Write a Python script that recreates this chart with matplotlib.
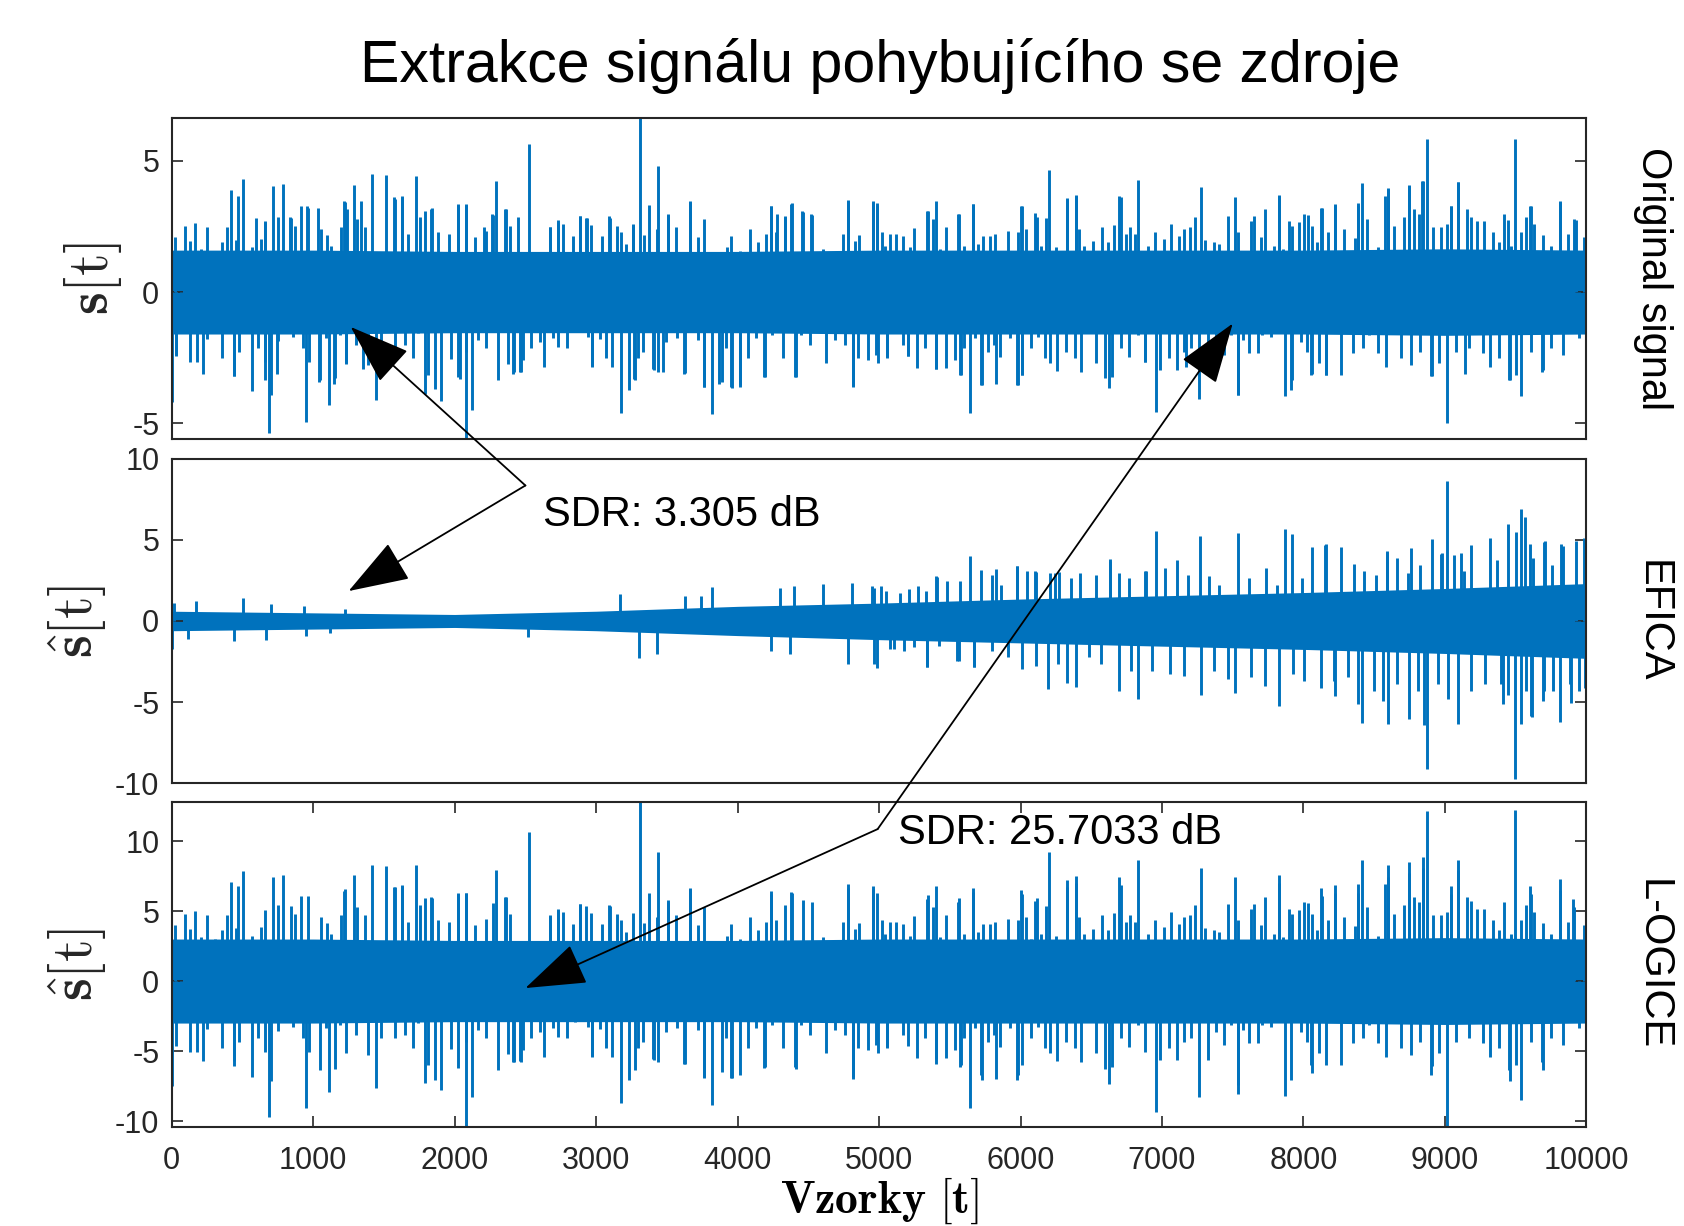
import numpy as np
import matplotlib
matplotlib.use("Agg")
import matplotlib.pyplot as plt

plt.rcParams['font.family'] = ['Liberation Sans', 'DejaVu Sans']
plt.rcParams['mathtext.fontset'] = 'cm'
plt.rcParams['axes.unicode_minus'] = False

BLUE = '#0072BD'

# ---- data ----
# solid core of each signal (envelope every 1000 samples)
env_x = [0, 1000, 2000, 3000, 4000, 5000, 6000, 7000, 8000, 9000, 10000]
orig_hi = [1.6, 1.6, 1.55, 1.55, 1.55, 1.6, 1.6, 1.6, 1.6, 1.65, 1.6]
orig_lo = [-1.6, -1.6, -1.55, -1.55, -1.55, -1.6, -1.6, -1.6, -1.6, -1.65, -1.6]
efica_hi = [0.6, 0.5, 0.4, 0.6, 0.9, 1.1, 1.35, 1.55, 1.75, 2.0, 2.3]
efica_lo = [-0.6, -0.5, -0.4, -0.6, -0.9, -1.15, -1.35, -1.55, -1.75, -2.0, -2.3]
logice_hi = [3.0, 3.0, 2.9, 2.9, 2.9, 3.0, 3.0, 3.0, 3.0, 3.1, 3.0]
logice_lo = [-3.0, -3.0, -2.9, -2.9, -2.9, -3.0, -3.0, -3.0, -3.0, -3.1, -3.0]

# tall spikes: original signal
orig_up_x = [416, 471, 506, 598, 660, 718, 783, 838, 913, 958, 1033, 1215, 1239, 1290, 1341,
             1417, 1516, 1574, 1626, 1728, 1790, 1842, 2023, 2081, 2208, 2266, 2294, 2362,
             2448, 2523, 2674, 2732, 2886, 2934, 3092, 3260, 3311, 3434, 3510, 3664, 4236,
             4280, 4332, 4383, 4452, 4520, 4777, 4959, 4983, 5346, 5400, 5562, 5663, 6006,
             6114, 6201, 6330, 6392, 6698, 6832, 7275, 7517, 7827, 8122, 8223, 8386, 8414,
             8598, 8743, 8836, 8872, 9042, 9092, 9186, 9449, 9496, 9601, 9817, 9925]
orig_up = [3.88, 3.68, 4.32, 2.83, 2.71, 4.04, 4.13, 2.86, 3.30, 3.27, 3.20, 3.49, 3.18, 4.10,
           3.49, 4.49, 4.45, 3.62, 3.66, 4.41, 3.11, 3.20, 3.35, 3.34, 2.48, 2.99, 4.22, 3.18,
           2.88, 5.63, 2.50, 2.73, 2.92, 2.83, 2.92, 2.60, 6.8, 4.79, 2.99, 3.49, 3.30, 2.99,
           2.92, 3.39, 3.11, 2.99, 3.53, 3.49, 3.39, 3.11, 3.49, 2.99, 3.37, 3.30, 2.88, 4.64,
           3.60, 3.71, 3.66, 4.28, 4.00, 3.62, 3.72, 3.21, 3.37, 3.41, 4.17, 3.96, 4.07, 4.22,
           5.85, 3.28, 4.19, 2.86, 2.73, 5.85, 3.30, 3.47, 2.73]
orig_dn_x = [5, 33, 221, 437, 564, 660, 684, 701, 742, 947, 1043, 1112, 1146, 1232, 1352, 1441,
             1790, 1900, 2037, 2078, 2122, 2414, 2465, 2968, 3174, 3229, 3270, 3407, 3475, 3623,
             3760, 3818, 3870, 3955, 4017, 4188, 4411, 4815, 5205, 5058, 5400, 5573, 5642, 5725,
             5826, 5977, 6013, 6626, 6878, 6958, 7167, 7264, 7535, 7870, 7917, 8061, 8158, 8905,
             9017, 9139, 9457, 9540, 9691, 9995]
orig_dn = [-4.19, -2.41, -3.14, -3.20, -3.77, -3.37, -5.36, -3.94, -3.11, -4.96, -3.43, -4.32,
           -3.49, -2.73, -2.92, -4.13, -3.88, -4.17, -3.30, -5.7, -4.49, -3.11, -3.05, -2.83,
           -4.60, -3.72, -3.30, -2.96, -3.05, -3.11, -3.62, -4.64, -3.49, -3.62, -3.62, -3.24,
           -3.24, -3.60, -2.45, -2.48, -2.92, -3.18, -4.60, -3.56, -3.49, -3.56, -3.18, -3.65,
           -2.67, -4.57, -2.86, -4.07, -3.94, -3.98, -3.37, -3.14, -3.18, -3.20, -4.98, -3.11,
           -3.37, -3.96, -2.99, -2.73]

# medium-height lines of the original signal (the fringe of the dense band)
mid_up_x = [21, 97, 127, 167, 205, 250, 304, 356, 393, 457, 568, 634, 662, 751, 841, 874, 963,
            1058, 1100, 1128, 1199, 1223, 1312, 1364, 1477, 1576, 1628, 1670, 1753, 1835, 1882,
            1960, 2024, 2083, 2141, 2224, 2271, 2353, 2389, 2483,
            2483, 2554, 2577, 2636, 2676, 2730, 2766, 2836, 2888, 2926, 2966, 3044, 3095, 3147,
            3178, 3209, 3260, 3336, 3371, 3397, 3430, 3508, 3567, 3602, 3665, 3720, 3762, 3826,
            3885, 3925, 3955, 4014, 4085, 4144, 4203, 4238, 4269, 4332, 4379, 4462, 4528, 4603,
            4697, 4744, 4780, 4827, 4857, 4956, 4985, 5022,
            5039, 5074, 5121, 5168, 5216, 5246, 5298, 5340, 5381, 5428, 5475, 5557, 5600, 5663,
            5703, 5734, 5781, 5821, 5863, 5910, 5981, 6009, 6040, 6075, 6106, 6146, 6181, 6252,
            6330, 6391, 6410, 6452, 6511, 6575, 6617, 6664, 6707, 6747, 6777, 6810, 6900, 6952,
            7011, 7065, 7117, 7159, 7201, 7234, 7305, 7366, 7406, 7470, 7536,
            7548, 7583, 7630, 7654, 7701, 7731, 7760, 7795, 7830, 7859, 7896, 7920, 7972, 8007,
            8031, 8061, 8094, 8132, 8172, 8226, 8290, 8320, 8367, 8384, 8448, 8490, 8525, 8579,
            8596, 8643, 8714, 8744, 8784, 8815, 8843, 8919, 8973, 9013, 9044, 9091, 9154, 9225,
            9279, 9338, 9385, 9420, 9468, 9538, 9574, 9609, 9633, 9691, 9750, 9814, 9868, 9915,
            9986]
orig_mid_up = [2.09, 2.53, 1.96, 2.63, 1.65, 2.47, 1.58, 1.90, 2.47, 2.0, 1.71, 2.03, 2.66, 2.87,
               2.81, 2.53, 3.19, 2.41, 2.18, 1.77, 2.47, 3.44, 2.78, 2.47, 1.46, 3.54, 3.61, 2.22,
               2.85, 3.16, 2.28, 2.22, 3.32, 3.32, 2.09, 2.34, 2.94, 3.16, 2.51, 1.39,
               1.52, 1.08, 1.46, 1.46, 2.47, 2.66, 2.59, 2.15, 2.89, 2.81, 2.56, 2.15, 2.81, 2.51,
               2.28, 1.84, 2.56, 2.18, 3.32, 1.20, 2.41, 2.95, 2.47, 1.27, 3.44, 2.09, 2.78, 1.16,
               1.42, 1.71, 2.15, 1.58, 2.41, 1.90, 2.22, 3.27, 2.28, 2.85, 3.35, 3.06, 2.95, 1.65,
               1.39, 2.22, 3.48, 1.96, 2.18, 3.44, 3.32, 2.28,
               1.77, 2.22, 2.22, 2.15, 1.71, 2.43, 1.52, 3.10, 2.78, 1.65, 2.47, 2.97, 1.77, 3.35,
               1.84, 2.13, 2.15, 2.22, 1.52, 2.34, 2.28, 3.27, 2.41, 1.58, 3.0, 1.77, 2.81, 1.71,
               3.54, 3.67, 2.41, 1.77, 1.96, 2.47, 1.90, 2.56, 3.61, 2.22, 2.47, 2.22, 1.77, 2.30,
               2.03, 2.59, 2.13, 2.41, 2.47, 2.85, 2.0, 1.90, 1.84, 2.91, 2.28,
               1.46, 1.46, 2.70, 2.91, 2.09, 3.16, 1.52, 1.77, 3.67, 1.65, 2.72, 2.53, 2.66, 2.97,
               2.94, 2.53, 1.92, 3.19, 2.30, 3.32, 2.41, 1.46, 2.05, 3.32, 2.78, 1.39, 1.71, 3.65,
               3.92, 2.53, 2.85, 4.05, 3.16, 2.97, 4.24, 2.47, 2.47, 2.59, 3.27, 4.18, 3.16, 2.72,
               2.72, 2.28, 1.90, 2.97, 1.77, 2.28, 2.85, 3.27, 2.59, 2.18, 1.77, 3.42, 2.22, 2.78,
               2.09]
mid_dn_x = [33, 68, 127, 179, 252, 304, 358, 441, 473, 528, 610, 657, 751, 799, 857, 893, 931,
            968, 1046, 1093, 1152, 1187, 1230, 1305, 1388, 1482, 1576, 1647, 1706, 1741, 1812,
            1859, 1972, 2024, 2083, 2165, 2224, 2306, 2377, 2419, 2483,
            2471, 2542, 2601, 2631, 2695, 2730, 2796, 2848, 2895, 2942, 2973, 3025, 3067, 3114,
            3272, 3296, 3331, 3402, 3437, 3496, 3571, 3630, 3673, 3720, 3760, 3887, 3920, 3960,
            4014, 4073, 4132, 4191, 4245, 4320, 4403, 4450, 4509, 4622, 4686, 4756, 4815, 4851,
            4921, 4992,
            4980, 5058, 5121, 5168, 5204, 5270, 5322, 5404, 5475, 5534, 5576, 5604, 5675, 5722,
            5769, 5816, 5856, 5929, 5981, 6012, 6075, 6127, 6170, 6212, 6259, 6323, 6382, 6429,
            6476, 6535, 6598, 6645, 6711, 6770, 6829, 6881, 6989, 7053, 7107, 7159, 7206, 7324,
            7383, 7437, 7489, 7536,
            7571, 7614, 7677, 7708, 7771, 7830, 7913, 7948, 7983, 8024, 8054, 8113, 8160, 8207,
            8266, 8306, 8349, 8419, 8466, 8525, 8584, 8631, 8690, 8761, 8824, 8909, 8961, 9079,
            9173, 9267, 9319, 9385, 9451, 9503, 9609, 9687, 9750, 9833, 9903, 9950, 9998]
orig_mid_dn = [-2.43, -1.52, -2.66, -2.66, -1.80, -1.39, -2.51, -3.19, -2.28, -1.14, -2.15, -2.66,
               -1.87, -1.52, -1.71, -1.27, -2.15, -2.66, -3.35, -1.77, -3.29, -1.65, -2.72, -2.03,
               -2.78, -2.15, -2.15, -2.03, -2.53, -1.58, -3.16, -3.70, -2.56, -3.25, -2.28, -1.84,
               -2.15, -3.35, -2.76, -3.04, -2.59,
               -3.04, -2.15, -1.90, -2.85, -1.77, -2.09, -2.15, -1.52, -1.33, -1.71, -2.85, -1.80,
               -2.51, -2.85, -3.35, -2.51, -2.28, -2.94, -3.04, -1.92, -1.77, -3.10, -1.46, -1.84,
               -3.61, -3.42, -2.15, -3.65, -3.54, -2.53, -1.77, -3.23, -1.65, -2.53, -3.23, -1.65,
               -2.03, -2.72, -1.84, -2.03, -3.61, -2.53, -2.59, -2.72,
               -2.41, -2.51, -1.52, -2.03, -2.43, -2.89, -2.15, -2.94, -2.91, -2.59, -3.16, -2.15,
               -1.77, -3.54, -2.28, -2.03, -2.47, -1.77, -3.54, -3.16, -2.15, -1.71, -2.53, -2.72,
               -3.01, -2.28, -2.53, -3.04, -1.39, -2.72, -3.29, -3.23, -2.15, -2.47, -1.65, -2.66,
               -2.97, -2.53, -2.97, -2.28, -2.15, -2.97, -1.90, -2.41, -1.65, -3.92,
               -1.84, -2.34, -2.34, -1.65, -1.71, -1.20, -3.73, -1.52, -1.90, -2.28, -3.16, -2.72,
               -3.16, -1.52, -3.16, -1.52, -2.34, -2.15, -1.65, -2.34, -2.85, -1.14, -2.53, -2.78,
               -2.28, -3.19, -2.72, -2.28, -2.15, -2.34, -2.85, -2.53, -3.35, -3.16, -2.28, -3.04,
               -2.15, -2.41, -1.52, -1.77, -2.76]

# EFICA estimate
efica_up_x = [16, 170, 506, 701, 934, 1225, 3167, 3630, 3739, 3818, 4298, 4400, 4606, 4811,
              4948, 5017, 5400, 5645, 5826, 5977, 6103, 6247, 6633, 6878, 6958, 7268, 7535,
              7870, 7917, 8061, 8158, 8267, 8591, 8764, 8908, 8970, 9017, 9114, 9186, 9320,
              9449, 9500, 9540, 9565, 9601, 9709, 9824, 9925, 9997]
efica_up = [1.13, 1.23, 1.44, 1.07, 0.92, 0.76, 1.64, 1.54, 1.54, 2.09, 2.05, 2.16, 2.26, 2.36,
            2.16, 2.16, 2.77, 4.00, 3.18, 3.39, 3.08, 2.98, 3.80, 3.08, 5.54, 5.20, 5.44, 5.65,
            5.38, 4.56, 4.72, 4.56, 4.31, 4.52, 5.07, 4.11, 8.62, 4.21, 4.66, 5.13, 5.95, 5.48,
            6.92, 6.37, 4.72, 4.93, 4.72, 4.93, 5.13]
efica_dn_x = [5, 118, 437, 667, 947, 1119, 2516, 3304, 3431, 4236, 4373, 4777, 4983, 5103,
              5339, 5562, 5671, 6193, 6330, 6392, 6698, 6832, 7275, 7517, 7827, 8122, 8223,
              8414, 8598, 8743, 8851, 8872, 9092, 9413, 9496, 9540, 9612, 9691, 9817, 9889, 9990]
efica_dn = [-1.75, -1.09, -1.23, -1.17, -0.92, -0.72, -0.99, -2.26, -2.05, -1.85, -2.05, -2.67,
            -2.87, -1.75, -2.83, -2.46, -2.83, -4.17, -3.80, -4.05, -4.31, -4.83, -4.58, -4.41,
            -5.24, -4.11, -4.62, -6.30, -6.37, -6.06, -6.41, -9.10, -6.32, -5.13, -9.75, -6.37,
            -5.85, -4.93, -6.22, -5.03, -4.11]
efica_mid_up_x = [4966, 5047, 5145, 5211, 5276, 5332, 5407, 5482, 5570, 5724, 5799, 5865, 5973,
                  6044, 6110, 6208, 6273, 6355, 6420, 6535, 6633, 6698, 6770, 6888, 7025, 7107,
                  7182, 7336, 7401, 7614, 7738, 7810, 7990, 8153, 8359, 8431, 8513, 8588, 8660,
                  8741, 8823, 8977, 9068, 9134, 9369, 9624, 9699, 9755, 9836, 9984]
efica_mid_up = [2.04, 1.84, 1.73, 1.94, 2.18, 1.84, 2.71, 2.45, 2.49, 3.16, 2.86, 2.24, 3.37,
                3.06, 3.02, 2.96, 3.02, 2.65, 2.96, 2.86, 3.71, 2.96, 2.65, 3.06, 3.27, 3.78,
                2.86, 2.76, 2.24, 2.65, 3.27, 2.24, 2.65, 4.65, 3.51, 3.06, 2.86, 4.24, 3.88,
                2.96, 3.47, 4.18, 4.08, 3.06, 3.78, 3.88, 4.86, 3.47, 4.59, 5.1]
efica_mid_dn_x = [4966, 5080, 5178, 5244, 5342, 5423, 5554, 5669, 5799, 5914, 6012, 6110, 6267,
                  6486, 6568, 6780, 6927, 7058, 7156, 7368, 7466, 7630, 7728, 7924, 8006, 8218,
                  8316, 8388, 8496, 8562, 8660, 8807, 8954, 9019, 9183, 9281, 9395, 9444, 9575,
                  9614, 9699, 9765, 9886, 9951, 10000]
efica_mid_dn = [-2.65, -1.73, -1.84, -1.63, -2.86, -1.53, -2.45, -2.86, -1.84, -2.24, -2.96,
                -2.76, -2.65, -2.24, -2.65, -3.06, -3.06, -3.27, -3.37, -3.06, -3.57, -3.47,
                -3.98, -3.27, -3.67, -3.67, -3.47, -5.1, -4.29, -4.9, -3.88, -4.29, -3.88, -4.8,
                -4.29, -3.88, -3.88, -4.53, -4.29, -5.92, -4.29, -4.29, -3.88, -4.29, -3.27]

# L-OGICE estimate
logice_up_x = [416, 471, 506, 718, 783, 913, 1215, 1290, 1417, 1516, 1574, 1626, 1728, 1790,
               1842, 2023, 2081, 2294, 2362, 2523, 2674, 2732, 2886, 3092, 3311, 3434, 3510,
               3664, 4236, 4383, 4777, 4959, 5346, 5400, 5562, 5663, 6006, 6114, 6201, 6330,
               6392, 6698, 6832, 7275, 7517, 7827, 8122, 8223, 8386, 8414, 8598, 8743, 8847,
               8872, 9042, 9092, 9186, 9496, 9601, 9817, 9907]
logice_up = [7.05, 6.82, 7.84, 7.43, 7.60, 6.10, 6.41, 7.60, 8.31, 8.24, 6.72, 6.77, 8.27, 5.94,
             5.94, 6.25, 6.29, 7.91, 6.01, 10.62, 4.68, 5.15, 5.53, 5.46, 13.0, 9.19, 5.82, 6.65,
             6.41, 6.29, 6.94, 6.82, 6.18, 6.77, 5.94, 6.65, 6.53, 5.94, 9.19, 7.24, 7.48, 7.41,
             8.65, 8.08, 7.46, 7.60, 6.65, 6.89, 6.94, 8.65, 8.31, 8.48, 8.84, 12.16, 6.82, 8.67,
             5.75, 12.23, 6.77, 7.29, 5.87]
logice_dn_x = [5, 221, 437, 564, 684, 701, 947, 1112, 1441, 1790, 1900, 2078, 2122, 2414, 2465,
               2968, 3174, 3229, 3407, 3623, 3760, 3818, 3955, 4188, 4411, 4815, 5058, 5400,
               5573, 5642, 5725, 5826, 5977, 6626, 6958, 7264, 7535, 7870, 8061, 8905, 9017,
               9457, 9540, 9691, 9995]
logice_dn = [-7.48, -5.70, -5.70, -6.82, -9.74, -7.13, -9.03, -7.89, -7.65, -7.29, -7.79, -10.6,
             -8.31, -5.77, -5.70, -5.34, -8.72, -7.05, -5.63, -5.94, -6.89, -8.84, -6.89, -6.18,
             -6.25, -7.01, -4.70, -5.89, -6.13, -9.10, -7.08, -6.96, -7.08, -7.32, -9.33, -8.31,
             -8.08, -8.22, -6.60, -6.72, -10.6, -7.13, -8.46, -6.37, -5.77]
# L-OGICE fringe (same sample positions as the original fringe)
logice_mid_up = [3.97, 4.81, 3.72, 5.0, 3.14, 4.69, 3.0, 3.61, 4.69, 3.8, 3.25, 3.86, 5.05, 5.45,
                 5.34, 4.81, 6.06, 4.58, 4.14, 3.36, 4.69, 6.54, 5.28, 4.69, 2.77, 6.73, 6.86, 4.22,
                 5.42, 6.0, 4.33, 4.22, 6.31, 6.31, 3.97, 4.45, 5.59, 6.0, 4.77, 2.64,
                 2.89, 2.05, 2.77, 2.77, 4.69, 5.05, 4.92, 4.09, 5.49, 5.34, 4.86, 4.09, 5.34, 4.77,
                 4.33, 3.5, 4.86, 4.14, 6.31, 2.28, 4.58, 5.61, 4.69, 2.41, 6.54, 3.97, 5.28, 2.2,
                 2.7, 3.25, 4.09, 3.0, 4.58, 3.61, 4.22, 6.21, 4.33, 5.42, 6.37, 5.81, 5.61, 3.14,
                 2.64, 4.22, 6.61, 3.72, 4.14, 6.54, 6.31, 4.33,
                 3.36, 4.22, 4.22, 4.09, 3.25, 4.62, 2.89, 5.89, 5.28, 3.14, 4.69, 5.64, 3.36, 6.37,
                 3.5, 4.05, 4.09, 4.22, 2.89, 4.45, 4.33, 6.21, 4.58, 3.0, 5.7, 3.36, 5.34, 3.25,
                 6.73, 6.97, 4.58, 3.36, 3.72, 4.69, 3.61, 4.86, 6.86, 4.22, 4.69, 4.22, 3.36, 4.37,
                 3.86, 4.92, 4.05, 4.58, 4.69, 5.42, 3.8, 3.61, 3.5, 5.53, 4.33,
                 2.77, 2.77, 5.13, 5.53, 3.97, 6.0, 2.89, 3.36, 6.97, 3.14, 5.17, 4.81, 5.05, 5.64,
                 5.59, 4.81, 3.65, 6.06, 4.37, 6.31, 4.58, 2.77, 3.9, 6.31, 5.28, 2.64, 3.25, 6.94,
                 7.45, 4.81, 5.42, 7.7, 6.0, 5.64, 8.06, 4.69, 4.69, 4.92, 6.21, 7.94, 6.0, 5.17,
                 5.17, 4.33, 3.61, 5.64, 3.36, 4.33, 5.42, 6.21, 4.92, 4.14, 3.36, 6.5, 4.22, 5.28,
                 3.97]
logice_mid_dn = [-4.62, -2.89, -5.05, -5.05, -3.42, -2.64, -4.77, -6.06, -4.33, -2.17, -4.09,
                 -5.05, -3.55, -2.89, -3.25, -2.41, -4.09, -5.05, -6.37, -3.36, -6.25, -3.14,
                 -5.17, -3.86, -5.28, -4.09, -4.09, -3.86, -4.81, -3.0, -6.0, -7.03, -4.86, -6.18,
                 -4.33, -3.5, -4.09, -6.37, -5.24, -5.78, -4.92,
                 -5.78, -4.09, -3.61, -5.42, -3.36, -3.97, -4.09, -2.89, -2.53, -3.25, -5.42,
                 -3.42, -4.77, -5.42, -6.37, -4.77, -4.33, -5.59, -5.78, -3.65, -3.36, -5.89,
                 -2.77, -3.5, -6.86, -6.5, -4.09, -6.94, -6.73, -4.81, -3.36, -6.14, -3.14, -4.81,
                 -6.14, -3.14, -3.86, -5.17, -3.5, -3.86, -6.86, -4.81, -4.92, -5.17,
                 -4.58, -4.77, -2.89, -3.86, -4.62, -5.49, -4.09, -5.59, -5.53, -4.92, -6.0, -4.09,
                 -3.36, -6.73, -4.33, -3.86, -4.69, -3.36, -6.73, -6.0, -4.09, -3.25, -4.81, -5.17,
                 -5.72, -4.33, -4.81, -5.78, -2.64, -5.17, -6.25, -6.14, -4.09, -4.69, -3.14,
                 -5.05, -5.64, -4.81, -5.64, -4.33, -4.09, -5.64, -3.61, -4.58, -3.14, -7.45,
                 -3.5, -4.45, -4.45, -3.14, -3.25, -2.28, -7.09, -2.89, -3.61, -4.33, -6.0, -5.17,
                 -6.0, -2.89, -6.0, -2.89, -4.45, -4.09, -3.14, -4.45, -5.42, -2.17, -4.81, -5.28,
                 -4.33, -6.06, -5.17, -4.33, -4.09, -4.45, -5.42, -4.81, -6.37, -6.0, -4.33, -5.78,
                 -4.09, -4.58, -2.89, -3.36, -5.24]

panels = [
    ('Original signal', r'$\mathbf{s}[\mathrm{t}]$', (-5.6, 6.65), [-5, 0, 5],
     orig_hi, orig_lo,
     [(orig_up_x, orig_up), (mid_up_x, orig_mid_up)],
     [(orig_dn_x, orig_dn), (mid_dn_x, orig_mid_dn)]),
    ('EFICA', r'$\hat{\mathbf{s}}[\mathrm{t}]$', (-10, 10), [-10, -5, 0, 5, 10],
     efica_hi, efica_lo,
     [(efica_up_x, efica_up), (efica_mid_up_x, efica_mid_up)],
     [(efica_dn_x, efica_dn), (efica_mid_dn_x, efica_mid_dn)]),
    ('L-OGICE', r'$\hat{\mathbf{s}}[\mathrm{t}]$', (-10.4, 12.8), [-10, -5, 0, 5, 10],
     logice_hi, logice_lo,
     [(logice_up_x, logice_up), (mid_up_x, logice_mid_up)],
     [(logice_dn_x, logice_dn), (mid_dn_x, logice_mid_dn)]),
]

fig = plt.figure(figsize=(16.84, 12.26), dpi=100)
boxes = [(0.642, 0.904), (0.361, 0.626), (0.081, 0.346)]
axes = []
for i, (name, ylab, ylim, yt, hi, lo, ups, dns) in enumerate(panels):
    b0, b1 = boxes[i]
    ax = fig.add_axes([0.102, b0, 0.840, b1 - b0])
    ax.fill_between(env_x, lo, hi, color=BLUE, lw=0)
    for xs, vs in ups:
        ax.vlines(xs, 0, vs, color=BLUE, lw=2.1)
    for xs, vs in dns:
        ax.vlines(xs, vs, 0, color=BLUE, lw=2.1)
    ax.set_xlim(0, 10000)
    ax.set_ylim(*ylim)
    ax.set_yticks(yt)
    ax.tick_params(direction='in', length=8, width=1.2, top=True, right=True,
                   labelsize=22, colors='#262626', pad=9)
    for s in ax.spines.values():
        s.set_linewidth(1.5)
        s.set_color('#262626')
    ax.set_ylabel(ylab, fontsize=42, color='#262626')
    ax.text(1.047, 0.5, name, transform=ax.transAxes, rotation=-90,
            ha='center', va='center', fontsize=30)
    if i < 2:
        ax.set_xticks([])
    else:
        ax.set_xticks(range(0, 10001, 1000))
        ax.tick_params(axis='x', pad=14)
    axes.append(ax)

ax1, ax2, ax3 = axes
ax1.yaxis.set_label_coords(-0.034, 0.5)
ax2.yaxis.set_label_coords(-0.045, 0.5)
ax3.yaxis.set_label_coords(-0.045, 0.5)
ax3.set_xlabel(r'$\mathbf{Vzorky\ [t]}$', fontsize=33)
ax3.xaxis.set_label_coords(0.5, -0.15)

fig.text(0.5225, 0.946, 'Extrakce signálu pohybujícího se zdroje',
         ha='center', va='center', fontsize=42.5)

# annotations
arrow = dict(arrowstyle='-|>,head_length=1.3,head_width=0.45', color='black',
             lw=1.3, mutation_scale=30, shrinkA=0, shrinkB=0)
ax3.annotate('', xy=(1265, -1.33), xycoords=ax1.transData,
             xytext=(2500, 8.34), textcoords=ax2.transData,
             arrowprops=arrow, annotation_clip=False)
ax3.annotate('', xy=(1250, 1.84), xycoords=ax2.transData,
             xytext=(2500, 8.34), textcoords=ax2.transData,
             arrowprops=arrow, annotation_clip=False)
ax2.text(2622, 6.5, 'SDR: 3.305 dB', fontsize=30, ha='left', va='center')

ax3.annotate('', xy=(7500, -1.2), xycoords=ax1.transData,
             xytext=(4990, 10.85), textcoords=ax3.transData,
             arrowprops=arrow, annotation_clip=False)
ax3.annotate('', xy=(2500, -0.5), xycoords=ax3.transData,
             xytext=(4990, 10.85), textcoords=ax3.transData,
             arrowprops=arrow, annotation_clip=False)
ax3.text(5131, 10.6, 'SDR: 25.7033 dB', fontsize=30, ha='left', va='center')

fig.savefig('out.png', dpi=100)
